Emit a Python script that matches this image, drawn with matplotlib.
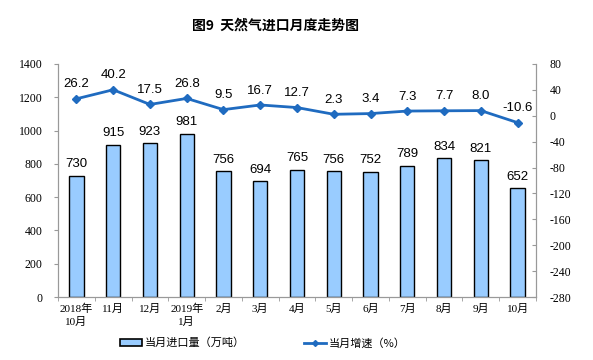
import matplotlib
matplotlib.use("Agg")
import matplotlib.pyplot as plt
from matplotlib.patches import Patch
from matplotlib.lines import Line2D
import numpy as np

categories = ["2018年\n10月", "11月", "12月", "2019年\n1月", "2月", "3月", "4月",
              "5月", "6月", "7月", "8月", "9月", "10月"]
imports = [730, 915, 923, 981, 756, 694, 765, 756, 752, 789, 834, 821, 652]
growth = [26.2, 40.2, 17.5, 26.8, 9.5, 16.7, 12.7, 2.3, 3.4, 7.3, 7.7, 8.0, -10.6]
left_ticks = [0, 200, 400, 600, 800, 1000, 1200, 1400]
right_ticks = [80, 40, 0, -40, -80, -120, -160, -200, -240, -280]

serif = ["Liberation Serif", "Noto Sans CJK SC"]
sans = ["Liberation Sans", "Noto Sans CJK SC"]
cjk = ["Noto Sans CJK SC", "DejaVu Sans"]

fig = plt.figure(figsize=(5.93, 3.60), dpi=100)
ax = fig.add_axes([58/593, 63/360, (536-58)/593, (297-64)/360])
ax2 = ax.twinx()

x = np.arange(len(categories))
ax.bar(x, imports, width=0.39, color="#99CCFF", edgecolor="black", linewidth=1.0, zorder=2)
for xi, v in zip(x, imports):
    ax.annotate(str(v), (xi, v), xytext=(0, 4), textcoords="offset points",
                ha="center", va="bottom", fontsize=9.5, family=sans)

ax.set_xlim(-0.5, len(categories) - 0.5)
ax.set_ylim(0, 1400)
ax.set_yticks(left_ticks)
ax.set_yticklabels([str(t) for t in left_ticks], family=serif, fontsize=8.5)
ax.set_xticks(x)
ax.set_xticklabels(categories, family=serif, fontsize=8, linespacing=1.3)
ax.set_xticks(np.arange(-0.5, len(categories), 1), minor=True)
ax.tick_params(axis="x", which="major", length=0, pad=5)
ax.tick_params(axis="x", which="minor", length=3, direction="out", color="#999999")
ax.tick_params(axis="y", length=3, direction="out", color="#999999", pad=8)

ax2.plot(x, growth, color="#1F6BC0", linewidth=2, marker="D", markersize=4, zorder=3)
for xi, v in zip(x, growth):
    ax2.annotate(f"{v:.1f}", (xi, v), xytext=(0, 6), textcoords="offset points",
                 ha="center", va="bottom", fontsize=9.5, family=sans)
ax2.set_ylim(-280, 80)
ax2.set_yticks(right_ticks)
ax2.set_yticklabels([str(t) for t in right_ticks], family=serif, fontsize=8.5)
ax2.tick_params(axis="y", length=3, direction="in", color="#999999", pad=10)

for a in (ax, ax2):
    a.spines["top"].set_visible(False)
    for s in ("left", "right", "bottom"):
        a.spines[s].set_color("#999999")
        a.spines[s].set_linewidth(0.8)

fig.text(276/593, 1 - 26/360, "图9  天然气进口月度走势图", ha="center", va="center",
         fontsize=10, fontweight="bold", family=cjk)

handles = [Patch(facecolor="#99CCFF", edgecolor="black", linewidth=1.2),
           Line2D([0], [0], color="#1F6BC0", linewidth=2, marker="D", markersize=3)]
labels = ["当月进口量（万吨）", "当月增速（%）"]
fig.legend(handles, labels, loc="center", bbox_to_anchor=(263/593, 1 - 343/360), ncol=2,
           frameon=False, prop={"family": cjk, "size": 8}, columnspacing=5.3,
           handlelength=2.0, handleheight=0.6, handletextpad=0.25)

fig.savefig("out.png", dpi=100)
